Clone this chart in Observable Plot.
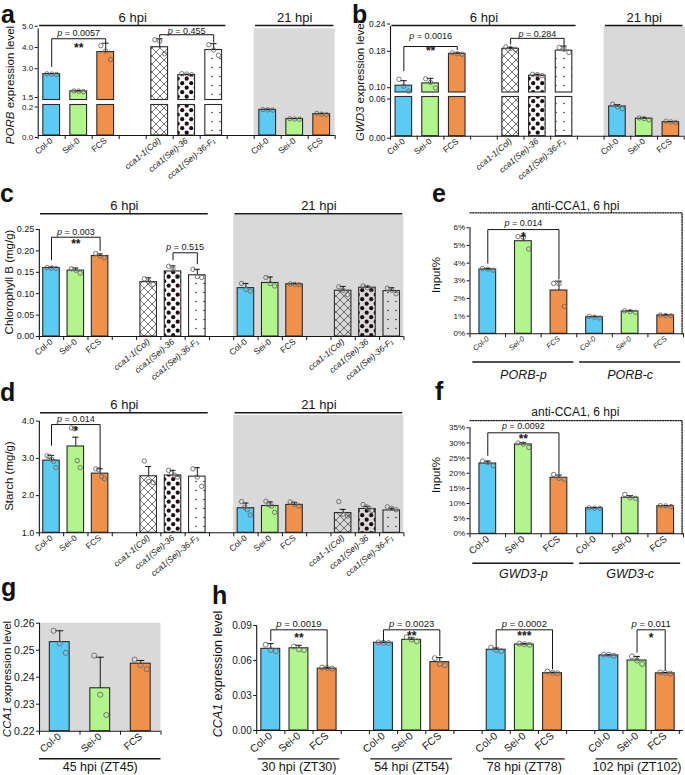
<!DOCTYPE html>
<html>
<head>
<meta charset="utf-8">
<script src="https://cdn.jsdelivr.net/npm/d3@7"></script>
<script src="https://cdn.jsdelivr.net/npm/@observablehq/plot@0.6"></script>
<style>
html,body{margin:0;padding:0;background:#fff;overflow:hidden;}
#chart{position:relative;width:685px;height:775px;font-family:Arial,"Liberation Sans",Helvetica,sans-serif;color:#111;}
.plt{position:absolute;left:0;top:0;}
.letter{position:absolute;font-weight:bold;font-size:25px;line-height:16px;}
.ytitle{position:absolute;white-space:nowrap;line-height:1;transform:translate(-50%,-50%) rotate(-90deg);}
</style>
</head>
<body>
<svg width="0" height="0" style="position:absolute;left:0;top:0">
  <defs>
    <pattern id="hatch" width="8" height="8" patternUnits="userSpaceOnUse">
      <path d="M-1,-1L9,9M9,-1L-1,9" stroke="#3a3a3a" stroke-width="0.7" fill="none"/>
    </pattern>
    <pattern id="bigdots" width="9" height="9" patternUnits="userSpaceOnUse">
      <circle cx="2.2" cy="2.2" r="2.1" fill="#1c1010"/>
      <circle cx="6.7" cy="6.7" r="2.1" fill="#1c1010"/>
    </pattern>
    <pattern id="smalldots" width="8" height="9" patternUnits="userSpaceOnUse">
      <circle cx="4" cy="4.5" r="0.75" fill="#222"/>
    </pattern>
  </defs>
</svg>
<div id="chart"></div>
<script>
const FONT = "Arial, 'Liberation Sans', Helvetica, sans-serif";
const FILLS = {
  "Col-0": "#5ccbf3", "Sei-0": "#b2f58c", "FCS": "#ef914b",
  "cca1-1(Col)": "url(#hatch)", "cca1(Sei)-36": "url(#bigdots)", "cca1(Sei)-36-F₁": "url(#smalldots)"
};

// ---------- shared categories ----------
const wtLabels = ["Col-0", "Sei-0", "FCS"];
const mutLabels = ["cca1-1(Col)", "cca1(Sei)-36", "cca1(Sei)-36-F₁"];

// ---------- panel a : PORB ----------
const aLabels = [...wtLabels, ...mutLabels, ...wtLabels];
const aMeans = [2.85, 1.95, 3.9, 4.13, 2.8, 4.0, 0.168, 0.108, 0.14];
const aErrs = [0.03, 0.03, 0.42, 0.4, 0.04, 0.3, 0.004, 0.003, 0.005];
const aPoints = [[2.86, 2.85, 2.83], [1.97, 1.96, 1.93], [4.2, 3.95, 3.55], [4.48, 4.42, 3.82], [2.87, 2.85, 2.82],
  [4.25, 4.0, 3.75], [0.17, 0.168, 0.167], [0.11, 0.108, 0.107], [0.145, 0.14, 0.137]];
const aTicks = [0, 0.2, 1.5, 3, 4, 5];
const aHeaders = [{label: "6 hpi", from: 0, to: 5}, {label: "21 hpi", from: 6, to: 8}];
const aBrackets = [
  {a: 0, b: 2, top: 4.53, ya: 3.22, yb: 4.3, text: "p = 0.0057", ty: 4.78, stars: "**", sy: 4.21},
  {a: 3, b: 5, top: 4.72, ya: 4.6, yb: 4.37, text: "p = 0.455", ty: 4.9}
];

// ---------- panel b : GWD3 ----------
const bLabels = [...wtLabels, ...mutLabels, ...wtLabels];
const bMeans = [0.11, 0.115, 0.18, 0.191, 0.132, 0.187, 0.0455, 0.0267, 0.0215];
const bErrs = [0.011, 0.011, 0.002, 0.003, 0.003, 0.01, 0.003, 0.0015, 0.001];
const bPoints = [[0.124, 0.109, 0.098], [0.125, 0.117, 0.105], [0.182, 0.18, 0.179], [0.195, 0.192, 0.19],
  [0.135, 0.134, 0.132], [0.194, 0.19, 0.183], [0.049, 0.045, 0.042], [0.028, 0.027, 0.025], [0.023, 0.022, 0.021]];
const bTicks = [0, 0.06, 0.1, 0.18, 0.24];
const bBrackets = [
  {a: 0, b: 2, top: 0.196, ya: 0.143, yb: 0.189, text: "p = 0.0016", ty: 0.218, stars: "**", sy: 0.192},
  {a: 3, b: 5, top: 0.214, ya: 0.2015, yb: 0.198, text: "p = 0.284", ty: 0.223}
];

// ---------- panel c : Chlorophyll B ----------
const cLabels = [...wtLabels, ...mutLabels, ...wtLabels, ...mutLabels];
const cMeans = [0.16, 0.154, 0.188, 0.127, 0.152, 0.143, 0.113, 0.125, 0.122, 0.107, 0.114, 0.106];
const cErrs = [0.002, 0.006, 0.005, 0.01, 0.013, 0.014, 0.011, 0.014, 0.002, 0.01, 0.004, 0.008];
const cPoints = [[0.161, 0.16, 0.159], [0.158, 0.155, 0.148], [0.194, 0.188, 0.184], [0.135, 0.128, 0.122],
  [0.164, 0.158, 0.14], [0.157, 0.14, 0.138], [0.124, 0.11, 0.106], [0.138, 0.124, 0.118], [0.123, 0.122, 0.121],
  [0.116, 0.108, 0.098], [0.118, 0.114, 0.11], [0.113, 0.108, 0.1]];
const cTicks = [0, 0.05, 0.1, 0.15, 0.2, 0.25];
const cHeaders = [{label: "6 hpi", from: 0, to: 5}, {label: "21 hpi", from: 6, to: 11}];
const cBrackets = [
  {a: 0, b: 2, top: 0.232, ya: 0.179, yb: 0.201, text: "p = 0.003", ty: 0.245, stars: "**", sy: 0.2227},
  {a: 4, b: 5, top: 0.1956, ya: 0.179, yb: 0.17, text: "p = 0.515", ty: 0.208}
];

// ---------- panel d : Starch ----------
const dLabels = [...wtLabels, ...mutLabels, ...wtLabels, ...mutLabels];
const dMeans = [2.94, 3.32, 2.59, 2.52, 2.54, 2.51, 1.66, 1.72, 1.75, 1.53, 1.64, 1.6];
const dErrs = [0.14, 0.25, 0.13, 0.26, 0.14, 0.24, 0.14, 0.11, 0.07, 0.1, 0.07, 0.06];
const dPoints = [[3.07, 3.05, 2.98, 2.92, 2.75], [3.82, 3.8, 2.94, 2.75], [2.72, 2.7, 2.51, 2.45], [2.93, 2.38, 2.35],
  [2.68, 2.6, 2.55, 2.5], [2.72, 2.5, 2.25], [1.84, 1.68, 1.62, 1.48], [1.85, 1.75, 1.72, 1.55], [1.83, 1.76, 1.72],
  [1.84, 1.5, 1.45], [1.76, 1.7, 1.66, 1.6], [1.7, 1.66, 1.62]];
const dTicks = [1, 2, 3, 4];
const dBrackets = [{a: 0, b: 2, top: 3.91, ya: 3.35, yb: 2.72, text: "p = 0.014", ty: 4.05, stars: "*", sy: 3.8}];

// ---------- panel e : ChIP PORB ----------
const eLabels = [...wtLabels, ...wtLabels];
const eMeans = [0.0364, 0.0524, 0.0245, 0.0094, 0.0126, 0.0104];
const eErrs = [0.0005, 0.003, 0.0053, 0.0005, 0.0005, 0.0004];
const ePoints = [[0.037, 0.0366, 0.036], [0.055, 0.0545, 0.048], [0.0285, 0.0283, 0.0155], [0.0098, 0.0094, 0.009],
  [0.013, 0.0126, 0.0122], [0.0106, 0.0104, 0.0102]];
const eTicks = [0, 0.01, 0.02, 0.03, 0.04, 0.05, 0.06];
const eGroups = [{label: "PORB-p", from: 0, to: 2}, {label: "PORB-c", from: 3, to: 5}];
const eBrackets = [{a: 0, b: 2, top: 0.059, ya: 0.04, yb: 0.031, text: "p = 0.014", ty: 0.0626, stars: "*", sy: 0.0566}];

// ---------- panel f : ChIP GWD3 ----------
const fLabels = [...wtLabels, ...wtLabels];
const fMeans = [0.232, 0.295, 0.185, 0.0845, 0.119, 0.091];
const fErrs = [0.008, 0.006, 0.009, 0.002, 0.007, 0.002];
const fPoints = [[0.24, 0.235, 0.225], [0.30, 0.296, 0.285], [0.196, 0.183, 0.18], [0.086, 0.085, 0.084],
  [0.13, 0.119, 0.117], [0.093, 0.092, 0.09]];
const fTicks = [0, 0.05, 0.1, 0.15, 0.2, 0.25, 0.3, 0.35];
const fGroups = [{label: "GWD3-p", from: 0, to: 2}, {label: "GWD3-c", from: 3, to: 5}];
const fBrackets = [{a: 0, b: 2, top: 0.3335, ya: 0.259, yb: 0.198, text: "p = 0.0092", ty: 0.354, stars: "**", sy: 0.322}];

// ---------- panel g : CCA1 45 hpi ----------
const gLabels = [...wtLabels];
const gMeans = [0.253, 0.2359, 0.245];
const gErrs = [0.0042, 0.0115, 0.0012];
const gPoints = [[0.2572, 0.2525, 0.249], [0.248, 0.2335, 0.226], [0.2465, 0.2445, 0.243]];
const gTicks = [0.22, 0.23, 0.24, 0.25, 0.26];
const gGroups = [{label: "45 hpi (ZT45)", from: 0, to: 2}];

// ---------- panel h : CCA1 time course ----------
const hLabels = [...wtLabels, ...wtLabels, ...wtLabels, ...wtLabels];
const hMeans = [0.07, 0.0705, 0.053, 0.0752, 0.0777, 0.0586, 0.0692, 0.0737, 0.0491, 0.0643, 0.06, 0.049];
const hErrs = [0.0045, 0.0025, 0.0008, 0.0005, 0.0018, 0.0039, 0.0015, 0.0007, 0.0008, 0.0006, 0.0035, 0.0007];
const hPoints = [[0.0735, 0.069, 0.068], [0.072, 0.0695, 0.069], [0.054, 0.0535, 0.053], [0.0755, 0.0752, 0.075],
  [0.08, 0.078, 0.0765], [0.062, 0.057, 0.056], [0.071, 0.069, 0.068], [0.0745, 0.074, 0.0735], [0.0505, 0.0495, 0.049],
  [0.065, 0.065, 0.064], [0.0635, 0.06, 0.057], [0.0497, 0.0493, 0.0488]];
const hTicks = [0, 0.03, 0.06, 0.09];
const hGroups = [{label: "30 hpi (ZT30)", from: 0, to: 2}, {label: "54 hpi (ZT54)", from: 3, to: 5},
  {label: "78 hpi (ZT78)", from: 6, to: 8}, {label: "102 hpi (ZT102)", from: 9, to: 11}];
const hBrackets = [
  {a: 0, b: 2, top: 0.0863, ya: 0.0771, yb: 0.0543, text: "p = 0.0019", ty: 0.0909, stars: "**", sy: 0.0814},
  {a: 3, b: 5, top: 0.0863, ya: 0.0771, yb: 0.0643, text: "p = 0.0023", ty: 0.0909, stars: "**", sy: 0.0831},
  {a: 6, b: 8, top: 0.0863, ya: 0.0714, yb: 0.0529, text: "p = 0.0002", ty: 0.0909, stars: "***", sy: 0.0831},
  {a: 10, b: 11, top: 0.0863, ya: 0.0671, yb: 0.052, text: "p = 0.011", ty: 0.0909, stars: "*", sy: 0.0814}
];

// ---------- builder ----------
const chart = document.getElementById("chart");
const INK = "#161616";

function decorate(svg) {
  d3.select(svg).selectAll("text").each(function () {
    const t = this.textContent;
    const sel = d3.select(this);
    const m = /^(p)( = .*)$/.exec(t);
    if (m && this.childElementCount === 0) {
      sel.text(null);
      sel.append("tspan").attr("font-style", "italic").text(m[1]);
      sel.append("tspan").text(m[2]);
    } else if (/^cca1/.test(t)) sel.attr("font-style", "italic");
  });
}

function build(p) {
  // broken (piecewise) value axis: values are warped through a polylinear d3 scale
  const W = p.warp ? d3.scaleLinear().domain(p.warp.domain).range(p.warp.range) : null;
  const Y = W ? (v => W(v)) : (v => v);
  const n = p.labels.length;
  const slots = d3.range(n).map(i => p.gapEvery ? i + Math.floor(i / p.gapEvery) : i);
  const nSlots = slots[n - 1] + 1;
  const X0 = -0.5, X1 = nSlots - 0.5;
  const Y0 = Y(p.yDomain[0]);
  const hw = p.barW / 2, cw = p.capW / 2;
  const bars = p.labels.map((g, i) => ({g, s: slots[i], m: Y(p.means[i]), t: Y(p.means[i] + p.errs[i]), fill: FILLS[g]}));
  const segs = p.labels.flatMap((g, i) => (p.brk && p.means[i] > p.brk[1])
    ? [{s: slots[i], fill: FILLS[g], lo: Y0, hi: Y(p.brk[0])}, {s: slots[i], fill: FILLS[g], lo: Y(p.brk[1]), hi: Y(p.means[i])}]
    : [{s: slots[i], fill: FILLS[g], lo: Y0, hi: Y(p.means[i])}]);
  const dots = bars.flatMap((b, i) => {
    const v = p.points[i], k = v.length, st = k > 1 ? p.spread / (k - 1) : 0;
    return v.map((y, j) => ({x: b.s + (j - (k - 1) / 2) * st, y: Y(y)}));
  });
  const tf = d3.format(p.yFmt);
  const labOf = new Map(slots.map((s, i) => [s, p.labels[i]]));
  const marks = [];

  if (p.gray) marks.push(Plot.rect([p.gray], {
    x1: g => slots[g.from] - 0.5, x2: g => g.right ?? X1, y1: Y0, y2: g => Y(g.top), fill: "#d9d9d9"
  }));
  if (p.dotFrame) marks.push(Plot.line(
    [{x: X0, y: Y(p.dotFrame.top)}, {x: p.dotFrame.right, y: Y(p.dotFrame.top)}, {x: p.dotFrame.right, y: Y0}],
    {x: "x", y: "y", stroke: INK, strokeWidth: 1.3, strokeDasharray: "1.3,1.3"}));

  // bars, error bars, replicate points
  marks.push(Plot.rect(segs, {x1: d => d.s - hw, x2: d => d.s + hw, y1: "lo", y2: "hi", fill: "fill", stroke: "#2a2a2a", strokeWidth: 1.1}));
  marks.push(Plot.ruleX(bars, {x: "s", y1: "m", y2: "t", stroke: INK, strokeWidth: 1}));
  marks.push(Plot.ruleY(bars, {x1: d => d.s - cw, x2: d => d.s + cw, y: "t", stroke: INK, strokeWidth: 1}));
  marks.push(Plot.dot(dots, {x: "x", y: "y", r: p.r, stroke: "#6a6a6a", strokeWidth: 0.9, fill: "none"}));

  // axes
  marks.push(Plot.ruleX([X0], {y1: Y0, y2: Y(d3.max(p.yTicks)), stroke: INK, strokeWidth: 1.1}));
  marks.push(Plot.ruleY([Y0], {x1: X0, x2: p.xAxisRight ?? X1, stroke: INK, strokeWidth: 1.1}));
  const yax = {anchor: "left", tickSize: 3, tickPadding: 2, fontSize: p.tickFont, label: null, stroke: INK, fill: INK};
  const lab = W ? (u => tf(W.invert(u))) : tf;
  if (p.brk) {
    marks.push(Plot.axisY(p.yTicks.filter(t => t <= p.brk[0]).map(Y), {...yax, tickFormat: lab, dy: 2}));
    marks.push(Plot.axisY(p.yTicks.filter(t => t >= p.brk[1]).map(Y), {...yax, tickFormat: lab, dy: -2.5}));
  } else marks.push(Plot.axisY(p.yTicks.map(Y), {...yax, tickFormat: lab}));
  marks.push(Plot.axisX(d3.range(nSlots + 1).map(k => k - 0.5), {anchor: "bottom", tickSize: 4, tickFormat: () => "", label: null, stroke: INK}));
  marks.push(Plot.axisX(slots, {anchor: "bottom", tickSize: 0, tickPadding: p.labPad ?? 4, tickRotate: -p.rot,
    tickFormat: s => labOf.get(s), fontSize: p.labFont, fontStyle: p.labItalic ? "italic" : "normal", label: null, fill: INK}));

  // headers above
  if (p.headers) {
    marks.push(Plot.ruleY(p.headers, {x1: h => slots[h.from] - 0.45, x2: h => slots[h.to] + 0.45, y: Y(p.hdrY), stroke: INK, strokeWidth: 1.5}));
    marks.push(Plot.text(p.headers, {x: h => (slots[h.from] + slots[h.to]) / 2, y: Y(p.hdrTY), text: "label", fontSize: 13, fill: INK}));
  }
  // groups below
  if (p.groups) {
    marks.push(Plot.ruleY(p.groups, {x1: h => slots[h.from] - p.grpPad, x2: h => slots[h.to] + p.grpPad, y: Y(p.grpY), stroke: INK, strokeWidth: 1.4}));
    marks.push(Plot.text(p.groups, {x: h => (slots[h.from] + slots[h.to]) / 2, y: Y(p.grpTY), text: "label", fontSize: 12.5,
      fontStyle: p.grpItalic ? "italic" : "normal", fill: INK}));
  }
  if (p.title) marks.push(Plot.text([p.title], {x: "x", y: d => Y(d.y), text: "text", fontSize: 12, fill: INK}));

  // significance brackets
  if (p.brackets) {
    const pts = p.brackets.flatMap((b, k) => [
      {k, x: slots[b.a], y: Y(b.ya)}, {k, x: slots[b.a], y: Y(b.top)}, {k, x: slots[b.b], y: Y(b.top)}, {k, x: slots[b.b], y: Y(b.yb)}]);
    marks.push(Plot.line(pts, {x: "x", y: "y", z: "k", stroke: INK, strokeWidth: 1}));
    marks.push(Plot.text(p.brackets, {x: b => (slots[b.a] + slots[b.b]) / 2, y: b => Y(b.ty), text: "text", fontSize: p.pFont, fill: INK}));
    marks.push(Plot.text(p.brackets.filter(b => b.stars), {x: b => (slots[b.a] + slots[b.b]) / 2, y: b => Y(b.sy), text: "stars",
      fontSize: 12, fontWeight: "bold", dy: 3, fill: INK}));
  }

  const svg = Plot.plot({
    width: 685, height: 775,
    marginLeft: p.left, marginRight: 685 - p.right, marginTop: 0, marginBottom: 775 - p.bottom,
    x: {domain: [X0, X1]},
    y: {domain: [Y(p.yDomain[0]), Y(p.yDomain[1])], range: p.yRange},
    color: {type: "identity"},
    style: {background: "none", fontFamily: FONT, overflow: "visible"},
    marks
  });
  svg.classList.add("plt");
  decorate(svg);
  chart.appendChild(svg);
}

const common = {barW: 0.62, capW: 0.25, spread: 0.36, r: 2.2, tickFont: 8.5, labFont: 8.5, rot: 40, pFont: 9};

build({...common, labels: aLabels, means: aMeans, errs: aErrs, points: aPoints, gapEvery: 3,
  left: 37.7, right: 334.7, bottom: 135, tickFont: 8,
  warp: {domain: [0, 0.2, 1.5, 3, 5], range: [0, 30.5, 35.5, 64.3, 106.7]}, brk: [0.2, 1.5],
  yDomain: [0, 5], yRange: [135, 28.3],
  yTicks: aTicks, yFmt: ".1f", gray: {from: 6, top: 5},
  headers: aHeaders, hdrY: 5.156, hdrTY: 5.53, brackets: aBrackets});

build({...common, labels: bLabels, means: bMeans, errs: bErrs, points: bPoints, gapEvery: 3,
  left: 390, right: 683.7, bottom: 135.7,
  warp: {domain: [0, 0.06, 0.095, 0.24], range: [0, 39.2, 43.7, 109.7]}, brk: [0.06, 0.095],
  yDomain: [0, 0.24], yRange: [135.7, 26],
  yTicks: bTicks, yFmt: ".2f", gray: {from: 6, top: 0.24, right: 10.56},
  headers: aHeaders, hdrY: 0.2422, hdrTY: 0.2598, brackets: bBrackets});

build({...common, barW: 0.68, labels: cLabels, means: cMeans, errs: cErrs, points: cPoints, gapEvery: 3,
  left: 38.85, right: 403.4, bottom: 336, tickFont: 9,
  yDomain: [0, 0.25], yRange: [336, 229], yTicks: cTicks, yFmt: ".2f", gray: {from: 6, top: 0.2827},
  headers: cHeaders, hdrY: 0.2867, hdrTY: 0.3049, brackets: cBrackets});

build({...common, barW: 0.68, labels: dLabels, means: dMeans, errs: dErrs, points: dPoints, gapEvery: 3,
  left: 38.85, right: 403.4, bottom: 532.3, tickFont: 9,
  yDomain: [1, 4], yRange: [532.3, 420.7], yTicks: dTicks, yFmt: ".1f", gray: {from: 6, top: 4.157},
  headers: cHeaders, hdrY: 4.226, hdrTY: 4.435, brackets: dBrackets});

build({...common, barW: 0.47, capW: 0.19, spread: 0.3, labels: eLabels, means: eMeans, errs: eErrs, points: ePoints,
  left: 469.5, right: 683, bottom: 333.3, labFont: 7.5, labItalic: true, tickFont: 8,
  yDomain: [0, 0.06], yRange: [333.3, 227.3], yTicks: eTicks, yFmt: ".0%",
  groups: eGroups, grpPad: 0.42, grpY: -0.016, grpTY: -0.0236, grpItalic: true,
  dotFrame: {top: 0.0685, right: 5.46}, title: {text: "anti-CCA1, 6 hpi", x: 2.46, y: 0.072}, brackets: eBrackets});

build({...common, barW: 0.47, capW: 0.19, spread: 0.3, labels: fLabels, means: fMeans, errs: fErrs, points: fPoints,
  left: 469.5, right: 683, bottom: 533.3, labFont: 9.5, tickFont: 8,
  yDomain: [0, 0.35], yRange: [533.3, 427.3], yTicks: fTicks, yFmt: ".0%",
  groups: fGroups, grpPad: 0.42, grpY: -0.097, grpTY: -0.134, grpItalic: true,
  dotFrame: {top: 0.374, right: 5.46}, title: {text: "anti-CCA1, 6 hpi", x: 2.46, y: 0.4015}, brackets: fBrackets});

build({...common, barW: 0.49, capW: 0.2, spread: 0.3, r: 2.6, labels: gLabels, means: gMeans, errs: gErrs, points: gPoints,
  left: 39, right: 160.5, bottom: 730.7, labFont: 10, tickFont: 10.5,
  yDomain: [0.22, 0.26], yRange: [730.7, 622.7], yTicks: gTicks, yFmt: ".2f", gray: {from: 0, top: 0.26},
  groups: gGroups, grpPad: 0.5, grpY: 0.2098, grpTY: 0.2067});

build({...common, barW: 0.67, capW: 0.24, r: 2.5, labels: hLabels, means: hMeans, errs: hErrs, points: hPoints, gapEvery: 3,
  left: 256.2, right: 678.8, bottom: 730, labFont: 10.5, tickFont: 10, pFont: 9.5, xAxisRight: 14.65,
  yDomain: [0, 0.09], yRange: [730, 625], yTicks: hTicks, yFmt: ".2f",
  groups: hGroups, grpPad: 0.45, grpY: -0.0243, grpTY: -0.0315, brackets: hBrackets});

// panel letters: [letter, left, baseline]
const letters = [["a", 1, 22.7], ["b", 352, 22.7], ["c", 0, 202], ["d", 0, 401], ["e", 432, 202], ["f", 435, 400], ["g", 1, 596], ["h", 212, 604]];
for (const [ch, x, base] of letters) {
  const d = document.createElement("div");
  d.className = "letter"; d.textContent = ch;
  // line-height 16px, font 25px: baseline sits ~16.6px below the box top
  d.style.left = x + "px"; d.style.top = (base - 16.6) + "px";
  chart.appendChild(d);
}
// y-axis titles
const ytitles = [
  ["<i>PORB</i> expression level", 11, 84.5, 11.5],
  ["<i>GWD3</i> expression level", 361, 81, 11.5],
  ["Chlorophyll B (mg/g)", 10, 282, 11.5],
  ["Starch (mg/g)", 10, 476, 11.5],
  ["Input%", 437, 275, 11.5],
  ["Input%", 437, 475, 11.5],
  ["<i>CCA1</i> expression level", 8, 679, 11.5],
  ["<i>CCA1</i> expression level", 218, 674, 12.5]
];
for (const [html, x, y, fs] of ytitles) {
  const d = document.createElement("div");
  d.className = "ytitle"; d.innerHTML = html;
  d.style.left = x + "px"; d.style.top = y + "px"; d.style.fontSize = fs + "px";
  chart.appendChild(d);
}
</script>
</body>
</html>
